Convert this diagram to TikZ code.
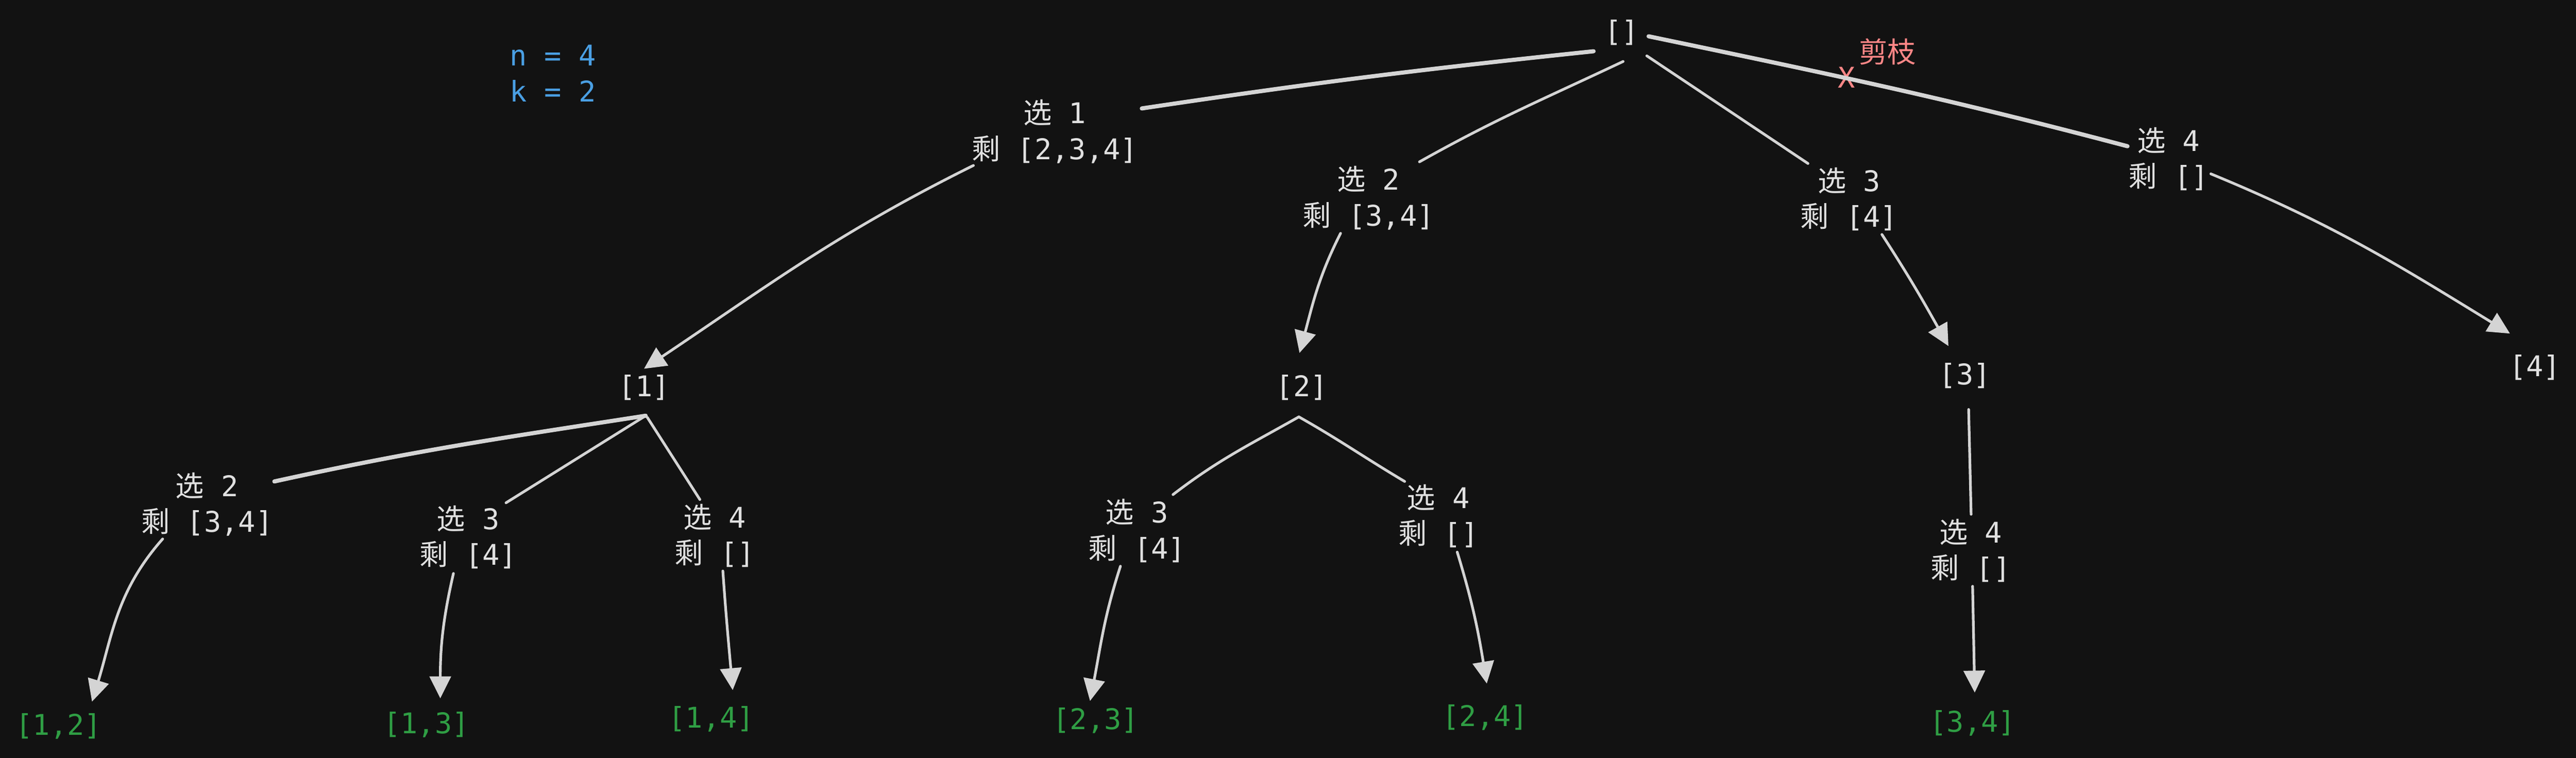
\documentclass[tikz,border=0pt]{standalone}
\usepackage{fontspec}
\setmonofont{DejaVu Sans Mono}
\newfontfamily\cjkfont{Noto Sans CJK SC}
\usetikzlibrary{arrows.meta}
\definecolor{bgc}{HTML}{121212}
\definecolor{fgc}{HTML}{E0E0E0}
\definecolor{lnc}{HTML}{D4D4D4}
\definecolor{okgreen}{HTML}{2F9E44}
\definecolor{infoblue}{HTML}{4A9FE3}
\definecolor{prunered}{HTML}{FF8787}
\newcommand\XuanC{{\cjkfont 选}}
\newcommand\ShengC{{\cjkfont 剩}}
\begin{document}
\begin{tikzpicture}[x=0.03343cm,y=0.03343cm,
  lbl/.style={font=\ttfamily\fontsize{16.5}{20.7}\selectfont, text=fgc, inner sep=0pt, outer sep=0pt, align=center},
  res/.style={lbl, text=okgreen},
  edge/.style={draw=lnc, line width=1.55pt, line cap=round},
  edgethick/.style={edge, line width=2.4pt},
  arr/.style={edge, -{Triangle[length=12.7pt,width=12.3pt]}}]
\fill[bgc] (0,0) rectangle (1568,-461.2);
\useasboundingbox (0,0) rectangle (1568,-461.2);

% info
\node[lbl, text=infoblue, align=left, anchor=west] (info) at (310.4,-44.7) {n = 4\\k = 2};

% level 0
\node[lbl] (root) at (987,-19.8) {[]};
\node[lbl, text=prunered] (prune) at (1149,-31.4) {{\cjkfont 剪枝}};
\node[lbl, text=prunered] (cut) at (1124,-47) {X};

% level 1 choices
\node[lbl] (s1) at (642,-80) {\XuanC{} 1\\\ShengC{} [2,3,4]};
\node[lbl] (s2) at (833,-120.5) {\XuanC{} 2\\\ShengC{} [3,4]};
\node[lbl] (s3) at (1125.5,-121.3) {\XuanC{} 3\\\ShengC{} [4]};
\node[lbl] (s4) at (1320,-96.8) {\XuanC{} 4\\\ShengC{} []};

% level 1 states
\node[lbl] (n1) at (392,-236) {[1]};
\node[lbl] (n2) at (792.4,-236) {[2]};
\node[lbl] (n3) at (1196,-228.6) {[3]};
\node[lbl] (n4) at (1543,-223.5) {[4]};

% level 2 choices
\node[lbl] (a2) at (126,-307) {\XuanC{} 2\\\ShengC{} [3,4]};
\node[lbl] (a3) at (285,-327) {\XuanC{} 3\\\ShengC{} [4]};
\node[lbl] (a4) at (435,-326) {\XuanC{} 4\\\ShengC{} []};
\node[lbl] (b3) at (692,-323) {\XuanC{} 3\\\ShengC{} [4]};
\node[lbl] (b4) at (875.5,-314) {\XuanC{} 4\\\ShengC{} []};
\node[lbl] (c4) at (1199.5,-335) {\XuanC{} 4\\\ShengC{} []};

% results
\node[res] (r12) at (35.7,-442) {[1,2]};
\node[res] (r13) at (259.5,-441) {[1,3]};
\node[res] (r14) at (433,-437.6) {[1,4]};
\node[res] (r23) at (667,-438.6) {[2,3]};
\node[res] (r24) at (904,-436.7) {[2,4]};
\node[res] (r34) at (1200.7,-440) {[3,4]};

% root edges
\draw[edgethick] ([shift={(-17,-11.4)}]root.center) to[out=186,in=8.5] ([shift={(53,14)}]s1.center);
\draw[edge] ([shift={(1,-17.6)}]root.center) to[out=205.3,in=29.3] ([shift={(31,22)}]s2.center);
\draw[edge] ([shift={(15.4,-14.2)}]root.center) -- ([shift={(-25,21.8)}]s3.center);
\draw[edgethick] ([shift={(16.5,-2.3)}]root.center) to[out=348.2,in=165.2] ([shift={(-25,7.8)}]s4.center);

% level 1 arrows
\draw[arr] ([shift={(-49.5,-20.7)}]s1.center) to[out=206.4,in=33.8] ([shift={(0,11.6)}]n1.center);
\draw[arr] ([shift={(-17,-21.5)}]s2.center) to[out=243,in=74.8] ([shift={(-1.4,21.2)}]n2.center);
\draw[arr] ([shift={(20,-21.4)}]s3.center) to[out=303,in=119.3] ([shift={(-10,18)}]n3.center);
\draw[arr] ([shift={(25.7,-9)}]s4.center) to[out=337.6,in=148.5] ([shift={(-15.2,20.5)}]n4.center);

% [1] subtree
\draw[edgethick] ([shift={(1,-17)}]n1.center) to[out=188.8,in=12.4] ([shift={(41,14)}]a2.center);
\draw[edge] ([shift={(1,-17)}]n1.center) -- ([shift={(23,21)}]a3.center);
\draw[edge] ([shift={(2,-18)}]n1.center) -- ([shift={(-9,22)}]a4.center);
\draw[arr] ([shift={(-27,-21)}]a2.center) to[out=228.5,in=73] ([shift={(20.3,15)}]r12.center);
\draw[arr] ([shift={(-9,-22)}]a3.center) to[out=257,in=90] ([shift={(8.5,16)}]r13.center);
\draw[arr] ([shift={(5,-21.5)}]a4.center) to[out=274,in=95] ([shift={(13,17.6)}]r14.center);

% [2] subtree
\draw[edge] ([shift={(-1.8,-17.7)}]n2.center) to[out=209.5,in=37.5] ([shift={(22,22)}]b3.center);
\draw[edge] ([shift={(-1.8,-17.7)}]n2.center) to[out=330.5,in=149.3] ([shift={(-20.5,21)}]b4.center);
\draw[arr] ([shift={(-10,-21.6)}]b3.center) to[out=252,in=79] ([shift={(-3.5,12)}]r23.center);
\draw[arr] ([shift={(11.5,-22)}]b4.center) to[out=287,in=99.3] ([shift={(1,20.7)}]r24.center);

% [3] subtree
\draw[edge] ([shift={(2.3,-20.6)}]n3.center) -- ([shift={(0.3,22)}]c4.center);
\draw[arr] ([shift={(1.2,-21.8)}]c4.center) -- ([shift={(1.3,18.5)}]r34.center);
\end{tikzpicture}
\end{document}
